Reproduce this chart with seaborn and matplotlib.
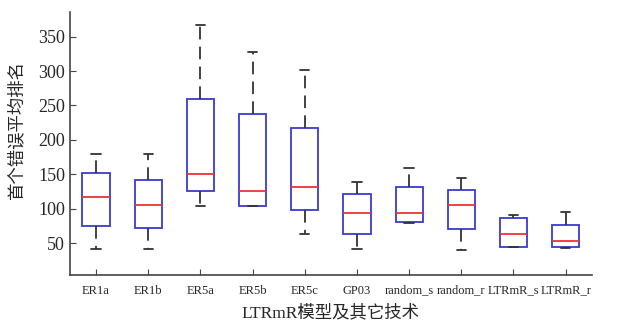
import numpy as np
import pandas as pd
import matplotlib
matplotlib.use("Agg")
import matplotlib.pyplot as plt
import seaborn as sns

# five-number summaries (whisker low, Q1, median, Q3, whisker high)
models = ["ER1a", "ER1b", "ER5a", "ER5b", "ER5c", "GP03",
          "random_s", "random_r", "LTRmR_s", "LTRmR_r"]
whisker_low = [42, 42, 104, 104, 63, 42, 80, 40, 44, 43]
q1 = [75, 72, 126, 104, 98, 63, 81, 71, 45, 45]
median = [117, 106, 150, 126, 132, 94, 94, 106, 63, 53]
q3 = [152, 142, 260, 237, 217, 122, 132, 127, 86, 76]
whisker_high = [180, 179, 367, 328, 301, 139, 159, 144, 91, 95]

# five points per model -> quartiles/median land exactly on the read values,
# whis=inf makes the whiskers run to min/max
rows = []
for i, m in enumerate(models):
    for v in (whisker_low[i], q1[i], median[i], q3[i], whisker_high[i]):
        rows.append({"model": m, "rank": v})
df = pd.DataFrame(rows)

sns.set_style("ticks")
plt.rcParams["font.family"] = ["Liberation Serif", "Noto Sans CJK SC"]

fig = plt.figure(figsize=(6.19, 3.28), dpi=100)
ax = fig.add_axes([0.113, 0.162, 0.843, 0.80])

cap_color = "#333333"
med_color = "#f03030"
sns.boxplot(data=df, x="model", y="rank", order=models, whis=np.inf,
            width=0.52, showfliers=False, ax=ax, linewidth=1.3,
            boxprops=dict(facecolor="none", edgecolor="#3a3ad0"),
            medianprops=dict(color=med_color, linewidth=1.3),
            whiskerprops=dict(color=cap_color, linestyle=(0, (7, 4)), linewidth=1.3),
            capprops=dict(color=cap_color, linewidth=1.3))

# narrower caps, like the MATLAB boxplot look of the original
for ln in ax.lines:
    xd, yd = np.asarray(ln.get_xdata(), float), np.asarray(ln.get_ydata(), float)
    if len(xd) == 2 and yd[0] == yd[1] and xd[0] != xd[1] \
            and not matplotlib.colors.same_color(ln.get_color(), med_color):
        c = (xd[0] + xd[1]) / 2
        ln.set_xdata([c - 0.09, c + 0.09])

ax.set_xlim(-0.5, 9.5)
ax.set_ylim(4, 385)
ax.set_yticks([50, 100, 150, 200, 250, 300, 350])
ax.tick_params(axis="both", direction="in", length=4, color="#444444")
ax.tick_params(axis="y", labelsize=13)
ax.tick_params(axis="x", labelsize=9, pad=7)
sns.despine(ax=ax)
for s in ("left", "bottom"):
    ax.spines[s].set_color("#444444")
    ax.spines[s].set_linewidth(1.2)

ax.set_xlabel("LTRmR模型及其它技术", fontsize=12.5, labelpad=6)
ax.set_ylabel("首个错误平均排名", fontsize=12.5)
ax.yaxis.set_label_coords(-0.085, 0.55)

fig.savefig("out.png", dpi=100)
